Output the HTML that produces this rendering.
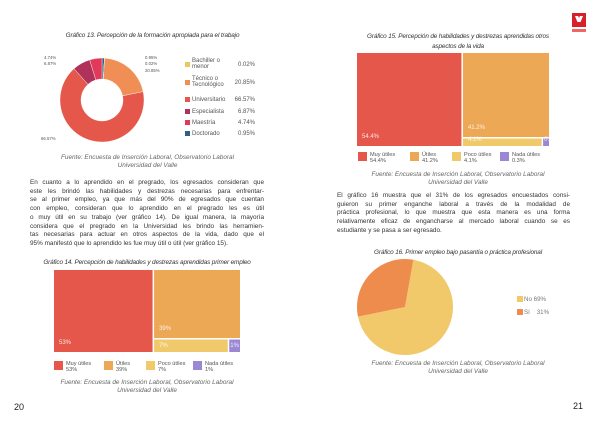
<!DOCTYPE html>
<html><head><meta charset="utf-8">
<style>
body{margin:0;background:#fff}
#page{position:relative;width:600px;height:425px;overflow:hidden;background:#fff;font-family:"Liberation Sans",sans-serif;color:#333}
.t{position:absolute;white-space:nowrap}
.ttl{font-style:italic;font-size:6.4px;color:#333;letter-spacing:-0.15px;text-align:center}
.src{font-style:italic;font-size:6.4px;color:#666;text-align:center;line-height:8px}
.par{position:absolute;font-size:6.4px;line-height:8.7px;text-align:justify;text-align-last:justify;color:#333}
.par span{display:block}
.lg{font-size:5.6px;color:#555;line-height:6.2px}
svg{position:absolute;left:0;top:0}
</style></head><body>
<div id="page">
<svg id="marks" width="600" height="425"></svg>

<div class="t ttl" style="left:30px;top:32px;width:245px">Gráfico 13. Percepción de la formación apropiada para el trabajo</div>
<div class="t" style="left:44px;top:55px;font-size:4.3px;line-height:6px;color:#555">4.74%<br>6.87%</div>
<div class="t" style="left:145px;top:55px;font-size:4.3px;line-height:6.3px;color:#555">0.95%<br>0.02%<br>20.85%</div>
<div class="t" style="left:41px;top:136px;font-size:4.3px;color:#555">66.57%</div>
<div id="leg13"></div>
<div class="t src" style="left:30px;top:154px;width:235px">Fuente: Encuesta de Inserción Laboral, Observatorio Laboral<br>Universidad del Valle</div>

<div class="par" style="left:30px;top:179px;width:234px">
<span>En cuanto a lo aprendido en el pregrado, los egresados consideran que</span>
<span>este les brindó las habilidades y destrezas necesarias para enfrentar-</span>
<span>se al primer empleo, ya que más del 90% de egresados que cuentan</span>
<span>con empleo, consideran que lo aprendido en el pregrado les es útil</span>
<span>o muy útil en su trabajo (ver gráfico 14). De igual manera, la mayoría</span>
<span>considera que el pregrado en la Universidad les brindo las herramien-</span>
<span>tas necesarias para actuar en otros aspectos de la vida, dado que el</span>
<span style="text-align-last:left">95% manifestó que lo aprendido les fue muy útil o útil (ver gráfico 15).</span>
</div>

<div class="t ttl" style="left:30px;top:259px;width:234px">Gráfico 14. Percepción de habilidades y destrezas aprendidas primer empleo</div>
<div id="tm14labels"></div>
<div class="t src" style="left:30px;top:379px;width:234px">Fuente: Encuesta de Inserción Laboral, Observatorio Laboral<br>Universidad del Valle</div>
<div class="t" style="left:14px;top:402px;font-size:9px;color:#222">20</div>

<div class="t ttl" style="left:340px;top:32px;width:236px;line-height:10px">Gráfico 15. Percepción de habilidades y destrezas aprendidas otros<br>aspectos de la vida</div>
<div id="tm15labels"></div>
<div class="t src" style="left:340px;top:171px;width:236px">Fuente: Encuesta de Inserción Laboral, Observatorio Laboral<br>Universidad del Valle</div>

<div class="par" style="left:337px;top:192px;width:233px">
<span>El gráfico 16 muestra que el 31% de los egresados encuestados consi-</span>
<span>guieron su primer enganche laboral a través de la modalidad de</span>
<span>práctica profesional, lo que muestra que esta manera es una forma</span>
<span>relativamente eficaz de engancharse al mercado laboral cuando se es</span>
<span style="text-align-last:left">estudiante y se pasa a ser egresado.</span>
</div>
<div class="t ttl" style="left:340px;top:249px;width:236px">Gráfico 16. Primer empleo bajo pasantía o práctica profesional</div>
<div class="t" style="left:524px;top:294px;font-size:6.2px;line-height:12.5px;color:#777">No 69%<br>Sí&nbsp;&nbsp;&nbsp; 31%</div>
<div class="t src" style="left:340px;top:360px;width:236px">Fuente: Encuesta de Inserción Laboral, Observatorio Laboral<br>Universidad del Valle</div>
<div class="t" style="left:573px;top:401px;font-size:9px;color:#222">21</div>

<div class="t" style="left:572px;top:13px;width:14px;height:14px;background:#d8202a"><div style="position:absolute;left:3px;top:3px;width:8px;height:6px;background:#fff;clip-path:polygon(0 0,40% 0,50% 40%,60% 0,100% 0,70% 100%,30% 100%)"></div></div>
<div class="t" style="left:572px;top:29px;width:14px;height:3px;background:#e66"></div>
</div>
<script>
const NS='http://www.w3.org/2000/svg';
const svg=document.getElementById('marks');
function mk(tag,attrs){const e=document.createElementNS(NS,tag);for(const k in attrs)e.setAttribute(k,attrs[k]);svg.appendChild(e);return e;}

// Chart 13 donut
const donutCats=['Doctorado','Bachiller o menor','Técnico o Tecnológico','Universitario','Especialista','Maestría'];
const donutVals=[0.95,0.02,20.85,66.57,6.87,4.74];
const donutColors=['#2e5f86','#eac85e','#ef8f55','#e5574a','#b0325a','#e0395a'];
const legCats=['Bachiller o menor','Técnico o Tecnológico','Universitario','Especialista','Maestría','Doctorado'];
const legVals=['0.02%','20.85%','66.57%','6.87%','4.74%','0.95%'];
const legColors=['#eac85e','#ef8f55','#e5574a','#b0325a','#e0395a','#2e5f86'];

function arcPath(cx,cy,r0,r1,a0,a1){
  const p=(r,a)=>[cx+r*Math.sin(a),cy-r*Math.cos(a)];
  const large=(a1-a0)>Math.PI?1:0;
  const [x1,y1]=p(r1,a0),[x2,y2]=p(r1,a1),[x3,y3]=p(r0,a1),[x4,y4]=p(r0,a0);
  if(r0===0)return `M${cx},${cy}L${x1},${y1}A${r1},${r1} 0 ${large} 1 ${x2},${y2}Z`;
  return `M${x1},${y1}A${r1},${r1} 0 ${large} 1 ${x2},${y2}L${x3},${y3}A${r0},${r0} 0 ${large} 0 ${x4},${y4}Z`;
}
(function(){
  const tot=donutVals.reduce((a,b)=>a+b,0);let a=0;
  donutVals.forEach((v,i)=>{const a1=a+v/tot*2*Math.PI;
    const e=mk('path',{d:arcPath(102,100,21,42,a,a1),fill:donutColors[i],stroke:'#fff','stroke-width':0.4});
    
    
    a=a1;});
  const L=document.getElementById('leg13');
  const ys=[65,83,100,112,123,134];
  legCats.forEach((c,i)=>{
    const s=mk('rect',{x:185,y:ys[i]-3,width:5,height:5,fill:legColors[i]});
    
    
    const d=document.createElement('div');d.className='t lg';
    d.style.left='192px';d.style.top=(ys[i]-(c.length>14?7:3.5))+'px';d.style.fontSize='6px';
    d.innerHTML=(c==='Bachiller o menor'?'Bachiller o<br>menor':c==='Técnico o Tecnológico'?'Técnico o<br>Tecnológico':c);
    
    
    L.appendChild(d);
    const v=document.createElement('div');v.className='t lg';v.style.left='233px';v.style.width='22px';v.style.textAlign='right';v.style.top=(ys[i]-3.5)+'px';v.style.fontSize='6px';v.textContent=legVals[i];
    
    
    L.appendChild(v);
  });
})();

// Treemaps
const tmCats=['Muy útiles','Útiles','Poco útiles','Nada útiles'];
const tm14Vals=[53,39,7,1];
const tm14Labels=['53%','39%','7%','1%'];
const tm15Vals=[54.4,41.2,4.1,0.3];
const tm15Labels=['54.4%','41.2%','4.1%','0.3%'];
const tmColors=['#e5574a','#eca855','#f0c96a','#9b87d4'];

function treemap(vals,labels,x,y,w,h,legY,legXs,labId,pre){
  const tot=vals.reduce((a,b)=>a+b,0),g=1.5;
  const w0=w*vals[0]/tot;
  const rest=tot-vals[0];
  const h1=h*vals[1]/rest;
  const x1=x+w0+g,wr=w-w0-g;
  const w2=wr*vals[2]/(vals[2]+vals[3]);
  const rects=[[x,y,w0,h],[x1,y,wr,h1],[x1,y+h1+g,w2-g,h-h1-g],[x1+w2,y+h1+g,wr-w2,h-h1-g]];
  const cont=document.getElementById(labId);
  rects.forEach((r,i)=>{
    const e=mk('rect',{x:r[0],y:r[1],width:Math.max(r[2],0.5),height:Math.max(r[3],0.5),fill:tmColors[i]});
    
    
    const d=document.createElement('div');d.className='t';d.style.fontSize='6px';d.style.color='rgba(255,255,255,0.85)';
    d.style.left=(r[0]+(i===3?1:5))+'px';d.style.top=(r[1]+r[3]-(i>=2?9:12))+'px';d.textContent=(i===3&&r[2]<4)?'':labels[i];
    
    
    cont.appendChild(d);
    const s=mk('rect',{x:legXs[i],y:legY,width:9,height:9,fill:tmColors[i]});
    
    
    const l=document.createElement('div');l.className='t lg';l.style.left=(legXs[i]+12)+'px';l.style.top=(legY)+'px';
    l.innerHTML=tmCats[i]+'<br>'+labels[i];
    
    
    cont.appendChild(l);
  });
}
treemap(tm14Vals,tm14Labels,54,270,186,82,361,[54,104,146,193],'tm14labels','chart14');
treemap(tm15Vals,tm15Labels,357,53,192,93,152,[358,410,452,500],'tm15labels','chart15');

// Chart 16 pie
const pieCats=['No','Sí'];
const pieVals=[69,31];
const pieColors=['#f2c96a','#ee8c4e'];
(function(){
  const tot=pieVals.reduce((a,b)=>a+b,0);let a=10*Math.PI/180;
  pieVals.forEach((v,i)=>{const a1=a+v/tot*2*Math.PI;
    const e=mk('path',{d:arcPath(405,307,0,48,a,a1),fill:pieColors[i]});
    
    
    a=a1;
    const s=mk('rect',{x:517,y:296+i*13,width:6,height:6,fill:pieColors[i]});
    
    
  });
})();
</script>
</body></html>
